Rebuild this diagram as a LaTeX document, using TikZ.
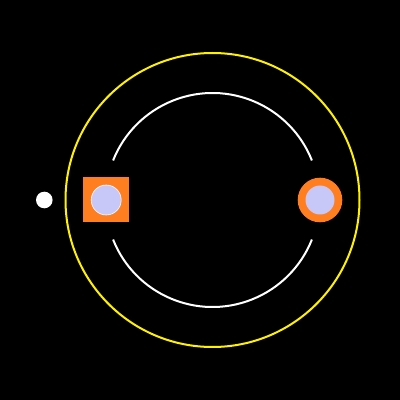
\documentclass[tikz,border=0pt]{standalone}
\usepackage{tikz}
\definecolor{bodyorange}{RGB}{255,126,32}
\definecolor{lavender}{RGB}{200,200,248}
\tikzstyle{dot} = [circle,fill=white,inner sep=0pt,minimum size=16.6pt]
\tikzstyle{pod} = [circle,fill=lavender,inner sep=0pt,minimum size=30pt]
\tikzstyle{ring} = [line width=2pt]
\begin{document}
\begin{tikzpicture}[x=1pt,y=1pt]
    \useasboundingbox (0,0) rectangle (400,400);
    \fill [black] (0,0) rectangle (400,400);
    \coordinate (c) at (212.5,200);

    % outer track and inner broken ring
    \draw [ring,yellow] (c) circle [radius=147];
    \draw [ring,white] ([shift={(21.7:107)}]c) arc [start angle=21.7, end angle=158.3, radius=107];
    \draw [ring,white] ([shift={(201.7:107)}]c) arc [start angle=201.7, end angle=338.3, radius=107];

    \node [dot] (probe) at (44.3,200) {};

    \node [rectangle,fill=bodyorange,inner sep=0pt,minimum width=45.7pt,minimum height=45pt] (dock) at (106.2,200) {};
    \node [pod,draw=white,line width=0.6pt] (podl) at (dock.center) {};

    \node [circle,fill=bodyorange,inner sep=0pt,minimum size=44.6pt] (hub) at (320,200) {};
    \node [pod,minimum size=29pt] (podr) at (hub.center) {};
  \end{tikzpicture}
\end{document}
